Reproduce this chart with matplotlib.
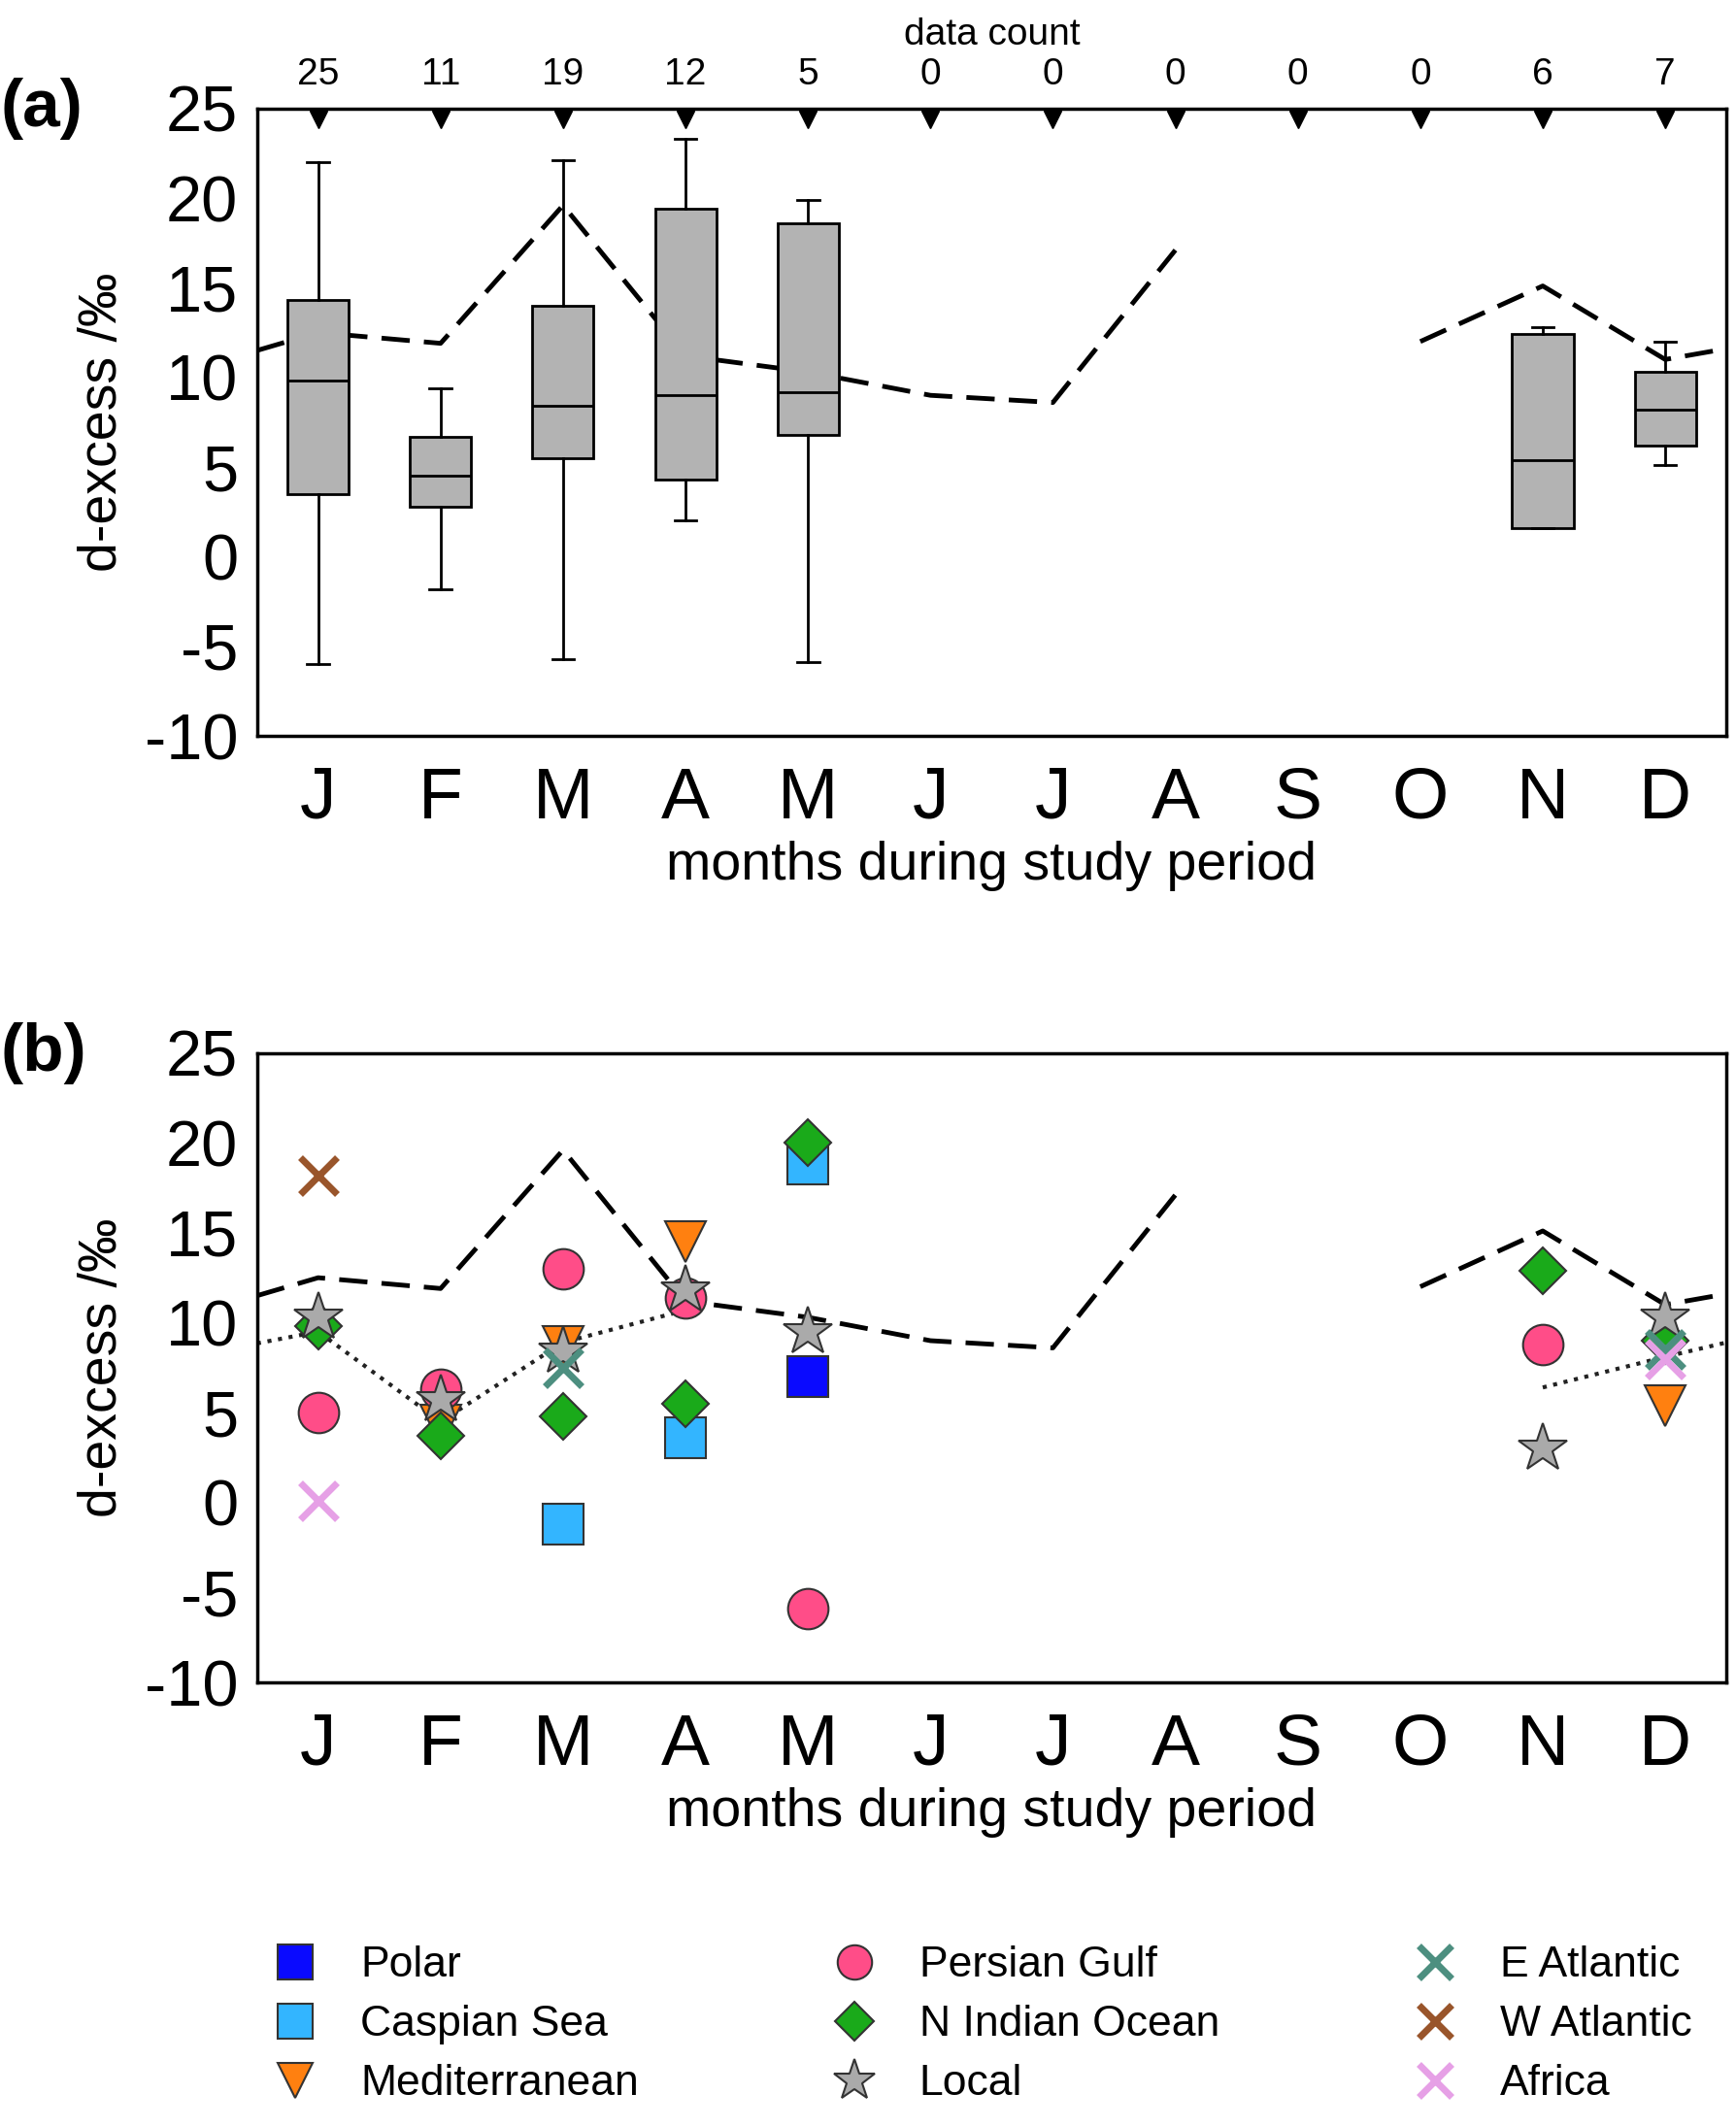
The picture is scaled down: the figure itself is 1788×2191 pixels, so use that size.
import numpy as np
import matplotlib
matplotlib.use("Agg")
import matplotlib.pyplot as plt

plt.rcParams["font.family"] = ["Liberation Sans", "DejaVu Sans"]
plt.rcParams["axes.unicode_minus"] = False

months = ["J", "F", "M", "A", "M", "J", "J", "A", "S", "O", "N", "D"]
counts = [25, 11, 19, 12, 5, 0, 0, 0, 0, 0, 6, 7]

# box stats: whislo, q1, med, q3, whishi
box_pos = [0, 1, 2, 3, 4, 10, 11]
box_stats = [
    (-6.0, 3.5, 9.8, 14.3, 22.0),
    (-1.8, 2.8, 4.5, 6.7, 9.4),
    (-5.7, 5.5, 8.4, 14.0, 22.1),
    (2.0, 4.3, 9.0, 19.4, 23.3),
    (-5.9, 6.8, 9.2, 18.6, 19.9),
    (1.6, 1.6, 5.4, 12.4, 12.8),
    (5.1, 6.2, 8.2, 10.3, 12.0),
]

# dashed long-term line (edges included), NaN = gap
dash_x = [-0.5, 0, 1, 2, 3, 4, 5, 6, 7, 8, 9, 10, 11, 11.5]
dash_y = [11.5, 12.5, 11.9, 19.6, 11.2, 10.3, 9.0, 8.6, 17.1, np.nan, 12.0, 15.1, 11.0, 11.6]

dot_x1 = [-0.5, 0, 1, 2, 3]
dot_y1 = [8.85, 9.5, 4.5, 8.9, 10.7]
dot_x2 = [10, 11, 11.5]
dot_y2 = [6.4, 8.1, 8.9]

# source categories: (label, marker, color, size, x list, y list)
sources = [
    ("Polar", "s", "#0a0aff", 30, [4], [7.0]),
    ("Caspian Sea", "s", "#33b5ff", 30, [2, 3, 4], [-1.2, 3.6, 18.8]),
    ("Mediterranean", "v", "#ff8010", 30, [1, 2, 3, 11], [4.3, 8.7, 14.5, 5.4]),
    ("Persian Gulf", "o", "#ff4d88", 30, [0, 1, 2, 3, 4, 10], [5.0, 6.3, 13.0, 11.4, -5.9, 8.8]),
    ("N Indian Ocean", "D", "#1aaa1a", 24, [0, 1, 2, 3, 4, 10, 11], [9.8, 3.7, 4.8, 5.5, 20.0, 12.9, 9.0]),
    ("Local", "*", "#aaaaaa", 38, [0, 1, 2, 3, 4, 10, 11], [10.3, 5.7, 8.4, 11.8, 9.5, 3.0, 10.3]),
    ("E Atlantic", "x", "#4d8f80", 28, [2, 11], [7.5, 8.5]),
    ("W Atlantic", "x", "#99552b", 28, [0], [18.2]),
    ("Africa", "x", "#e6a0e6", 28, [0, 11], [0.1, 8.0]),
]

fig = plt.figure(figsize=(17.88, 21.91), dpi=100)
ax_a = fig.add_axes([0.148, 0.654, 0.8465, 0.295])
ax_b = fig.add_axes([0.148, 0.209, 0.8465, 0.296])

for ax in (ax_a, ax_b):
    ax.plot(dash_x, dash_y, ls=(0, (6, 3)), color="black", lw=3.5, zorder=1)

# panel a
stats = [dict(whislo=a, q1=b, med=c, q3=d, whishi=e, fliers=[]) for a, b, c, d, e in box_stats]
ax_a.bxp(stats, positions=box_pos, widths=0.5, patch_artist=True, showfliers=False,
         boxprops=dict(facecolor="#b3b3b3", edgecolor="black", lw=2),
         medianprops=dict(color="black", lw=2), whiskerprops=dict(lw=2),
         capprops=dict(lw=2), capwidths=0.18)
ax_a.plot(range(12), [24.4] * 12, "v", color="black", ms=13, clip_on=False, zorder=5)
for i, c in enumerate(counts):
    ax_a.text(i, 25.9, str(c), ha="center", va="bottom", fontsize=28)
ax_a.text(5.5, 28.1, "data count", ha="center", va="bottom", fontsize=28)

# panel b
ax_b.plot(dot_x1, dot_y1, ls=":", color="#222222", lw=3, zorder=2)
ax_b.plot(dot_x2, dot_y2, ls=":", color="#222222", lw=3, zorder=2)
for lab, mk, col, ms, xs, ys in sources:
    if mk == "x":
        ax_b.plot(xs, ys, mk, color=col, ms=ms, mew=5, label=lab, zorder=3, ls="none")
    else:
        ax_b.plot(xs, ys, mk, mfc=col, mec="#333333", mew=1.5, ms=ms, label=lab, zorder=3, ls="none")

for ax in (ax_a, ax_b):
    ax.set_xlim(-0.5, 11.5)
    ax.set_ylim(-10, 25)
    ax.set_yticks(range(-10, 26, 5))
    ax.set_xticks(range(12))
    ax.set_xticklabels(months)
    ax.tick_params(axis="y", labelsize=48, length=0, pad=14)
    ax.tick_params(axis="x", labelsize=54, length=0, pad=22)
    ax.set_xlabel("months during study period", fontsize=40, labelpad=6)
    ax.set_ylabel("d-excess /‰", fontsize=40, labelpad=12)
    for s in ax.spines.values():
        s.set_linewidth(2.5)

fig.legend(*ax_b.get_legend_handles_labels(), ncol=3, loc="center",
           bbox_to_anchor=(0.56, 0.048), frameon=False, fontsize=32,
           columnspacing=4.0, handletextpad=0.5, labelspacing=0.45, markerscale=0.85)

fig.text(0.0, 0.949, "(a)", fontsize=50, fontweight="bold", va="center")
fig.text(0.0, 0.505, "(b)", fontsize=50, fontweight="bold", va="center")

fig.savefig("out.png", dpi=100)
